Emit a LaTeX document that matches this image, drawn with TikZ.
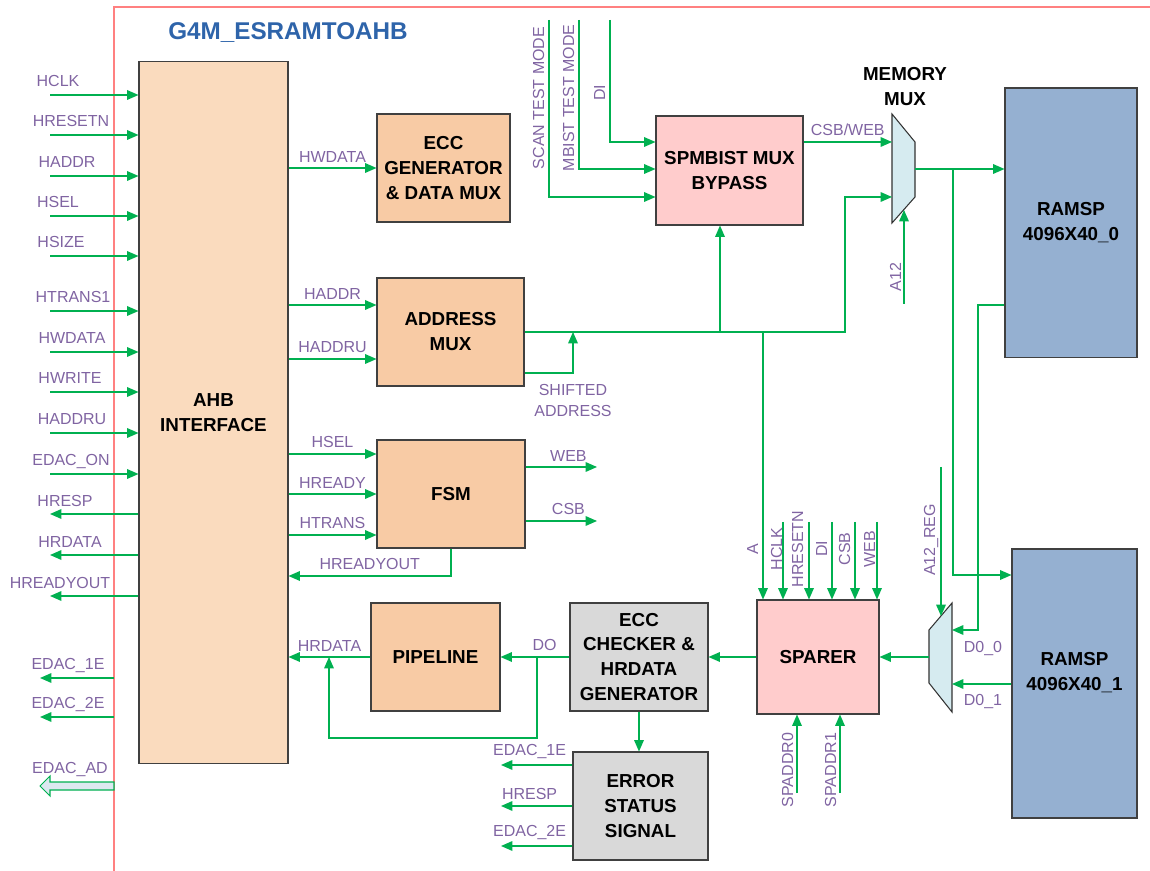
\documentclass[tikz,border=0pt]{standalone}
\usepackage{fontspec}
\setmainfont{Liberation Sans}
\usetikzlibrary{arrows.meta, positioning}
\definecolor{sgreen}{RGB}{0,176,80}
\definecolor{lpurple}{RGB}{128,100,162}
\definecolor{ahbfill}{RGB}{250,219,190}
\definecolor{orfill}{RGB}{248,203,165}
\definecolor{pkfill}{RGB}{255,204,204}
\definecolor{gyfill}{RGB}{217,217,217}
\definecolor{ramfill}{RGB}{149,176,209}
\definecolor{muxfill}{RGB}{214,235,240}
\definecolor{ttlblue}{RGB}{46,100,170}
\definecolor{framered}{RGB}{255,128,128}
\definecolor{adfill}{RGB}{221,232,240}

\begin{document}
\begin{tikzpicture}[
    x=0.02cm, y=-0.02cm,
    blk/.style={draw=black!75, line width=0.6pt, fill=orfill, align=center, inner sep=0pt,
        font=\fontsize{10.7}{14.2}\selectfont\bfseries},
    sig/.style={draw=sgreen, line width=0.7pt, -{Triangle[length=6.5pt, width=5.5pt]}},
    wire/.style={draw=sgreen, line width=0.7pt},
    lbl/.style={text=lpurple, inner sep=0pt, align=center,
        font=\fontsize{9.1}{12}\selectfont},
    muxshape/.style={draw=black!80, fill=muxfill, line width=0.6pt}
]
    \useasboundingbox (0,0) rectangle (1150,871);

    % frame and title
    \draw[framered, line width=0.8pt] (114,871) -- (114,7) -- (1150,7);
    \node[text=ttlblue, font=\fontsize{13.8}{16}\selectfont\bfseries] (title) at (288,33) {G4M\_ESRAMTOAHB};

    % blocks
    \node[blk, fill=ahbfill, minimum width=2.98cm, minimum height=14.06cm] (ahb) at (213.5,412.5) {AHB\\INTERFACE};
    \node[blk, minimum width=2.66cm, minimum height=2.16cm] (eccgen) at (443.5,168) {ECC\\GENERATOR\\\& DATA MUX};
    \node[blk, minimum width=2.94cm, minimum height=2.16cm] (addr) at (450.5,332) {ADDRESS\\MUX};
    \node[blk, minimum width=2.96cm, minimum height=2.16cm] (fsm) at (451,494) {FSM};
    \node[blk, minimum width=2.58cm, minimum height=2.16cm] (pipe) at (435.5,657) {PIPELINE};
    \node[blk, fill=gyfill, minimum width=2.76cm, minimum height=2.16cm] (eccchk) at (639,657) {ECC\\CHECKER \&\\HRDATA\\GENERATOR};
    \node[blk, fill=gyfill, minimum width=2.70cm, minimum height=2.16cm] (err) at (640.5,806) {ERROR\\STATUS\\SIGNAL};
    \node[blk, fill=pkfill, minimum width=2.44cm, minimum height=2.28cm] (sparer) at (818,657) {SPARER};
    \node[blk, fill=pkfill, minimum width=2.94cm, minimum height=2.18cm] (spm) at (729.5,170.5) {SPMBIST MUX\\BYPASS};
    \node[blk, fill=ramfill, minimum width=2.64cm, minimum height=5.4cm] (ram0) at (1071,223) {RAMSP\\4096X40\_0};
    \node[blk, fill=ramfill, minimum width=2.5cm, minimum height=5.38cm] (ram1) at (1074.5,683.5) {RAMSP\\4096X40\_1\\\mbox{}};

    % muxes
    \draw[muxshape] (892,114) -- (915,142) -- (915,197) -- (892,223) -- cycle;
    \coordinate (mmuxin1) at (892,142);
    \coordinate (mmuxin2) at (892,197);
    \coordinate (mmuxsel) at (904,210);
    \coordinate (mmuxout) at (915,169);
    \node[font=\fontsize{10.7}{14.2}\selectfont\bfseries, align=center] (mmuxlbl) at (905,87) {MEMORY\\MUX};

    \draw[muxshape] (952,603) -- (929,630) -- (929,683) -- (952,712) -- cycle;
    \coordinate (lmuxin0) at (952,630);
    \coordinate (lmuxin1) at (952,684);
    \coordinate (lmuxsel) at (941,616);
    \coordinate (lmuxout) at (929,657);

    % AHB pins
    \foreach \yy/\txt/\lx [count=\i] in {95/HCLK/58, 135/HRESETN/71, 176/HADDR/67, 216/HSEL/58,
        256/HSIZE/61, 311/HTRANS1/73, 352/HWDATA/72, 392/HWRITE/70, 433/HADDRU/72, 474/EDAC\_ON/71} {
        \coordinate (pin\i) at (50,\yy);
        \draw[sig] (pin\i) -- (ahb.west |- pin\i);
        \node[lbl, anchor=base] (pinl\i) at (\lx,\yy-8) {\txt};
    }
    \foreach \yy/\txt/\lx [count=\i] in {514/HRESP/65, 555/HRDATA/70, 596/HREADYOUT/60} {
        \coordinate (pout\i) at (50,\yy);
        \draw[sig] (ahb.west |- pout\i) -- (pout\i);
        \node[lbl, anchor=base] (poutl\i) at (\lx,\yy-8) {\txt};
    }
    \foreach \yy/\txt [count=\i] in {678/EDAC\_1E, 717/EDAC\_2E} {
        \coordinate (pe\i) at (40,\yy);
        \draw[sig] (114,\yy) -- (pe\i);
        \node[lbl, anchor=base] (pel\i) at (68,\yy-9) {\txt};
    }
    \draw[draw=sgreen, fill=adfill, line width=0.6pt] (114,782) -- (50,782) -- (50,776) -- (40,786)
        -- (50,796) -- (50,790) -- (114,790) -- cycle;
    \node[lbl, anchor=base] (adl) at (70,773) {EDAC\_AD};

    % AHB to blocks
    \draw[sig] (ahb.east |- eccgen) -- node[lbl, above=3pt] {HWDATA} (eccgen);
    \draw[sig] (ahb.east |- 0,305) -- node[lbl, above=3pt] {HADDR} (addr.west |- 0,305);
    \draw[sig] (ahb.east |- 0,359) -- node[lbl, above=3pt] {HADDRU} (addr.west |- 0,359);
    \draw[sig] (ahb.east |- 0,454) -- node[lbl, above=3pt] {HSEL} (fsm.west |- 0,454);
    \draw[sig] (ahb.east |- 0,494) -- node[lbl, above=3pt] {HREADY} (fsm.west |- 0,494);
    \draw[sig] (ahb.east |- 0,535) -- node[lbl, above=3pt] {HTRANS} (fsm.west |- 0,535);

    % FSM outputs
    \coordinate (webo) at (597,467);
    \coordinate (csbo) at (597,521);
    \draw[sig] (fsm.east |- webo) -- node[lbl, above=3pt, pos=0.6] {WEB} (webo);
    \draw[sig] (fsm.east |- csbo) -- node[lbl, above=3pt, pos=0.6] {CSB} (csbo);
    \draw[sig] (fsm.south) |- node[lbl, above=3pt, pos=0.75] {HREADYOUT} (ahb.east |- 0,576);

    % address paths
    \coordinate (aj) at (845,332);
    \draw[sig] (addr.east) -- (aj) |- (mmuxin2);
    \draw[sig] (addr.east -| 720,0) -- (spm.south -| 720,0);
    \draw[sig] (addr.east -| 763,0) -- (sparer.north -| 763,0);
    \draw[sig] (addr.east |- 0,373) -| node[lbl, below=6pt, pos=0.5] {SHIFTED\\ADDRESS} (addr.east -| 573,0);

    % SPMBIST inputs
    \coordinate (scan) at (549,20);
    \coordinate (mbist) at (579,20);
    \coordinate (dii) at (610,20);
    \draw[sig] (scan) |- (spm.west |- 0,197);
    \draw[sig] (mbist) |- (spm.west |- 0,169);
    \draw[sig] (dii) |- (spm.west |- 0,142);
    \node[lbl, rotate=90, anchor=base] (scanl) at (544,98) {SCAN TEST MODE};
    \node[lbl, rotate=90, anchor=base] (mbistl) at (574,98) {MBIST TEST MODE};
    \node[lbl, rotate=90, anchor=base] (diil) at (605,93) {DI};

    % memory mux
    \draw[sig] (spm.east |- mmuxin1) -- node[lbl, above=3pt] {CSB/WEB} (mmuxin1);
    \coordinate (a12) at (904,304);
    \draw[sig] (a12) -- (mmuxsel);
    \node[lbl, rotate=90, anchor=base] (a12l) at (901,277) {A12};
    \draw[sig] (mmuxout) -- (ram0.west |- mmuxout);
    \draw[sig] (mmuxout -| 953,0) |- (ram1.west |- 0,575);

    % sparer inputs
    \foreach \xx/\txt/\bx [count=\i] in {783/HCLK/782, 809/HRESETN/803, 832/DI/827, 855/CSB/850, 877/WEB/875} {
        \coordinate (sin\i) at (\xx,522);
        \draw[sig] (sin\i) -- (sparer.north -| sin\i);
        \node[lbl, rotate=90, anchor=base] (sinl\i) at (\bx,549) {\txt};
    }
    \node[lbl, rotate=90, anchor=base] (al) at (758,549) {A};
    \foreach \xx/\txt/\bx [count=\i] in {797/SPADDR0/793, 840/SPADDR1/836} {
        \coordinate (sad\i) at (\xx,793);
        \draw[sig] (sad\i) -- (sparer.south -| sad\i);
        \node[lbl, rotate=90, anchor=base] (sadl\i) at (\bx,770) {\txt};
    }

    % lower mux
    \coordinate (a12reg) at (941,467);
    \draw[sig] (a12reg) -- (lmuxsel);
    \node[lbl, rotate=90, anchor=base] (a12regl) at (935,540) {A12\_REG};
    \coordinate (d0c) at (978,305);
    \draw[sig] (ram0.west |- d0c) -- (d0c) |- (lmuxin0);
    \node[lbl, anchor=base] (d00l) at (983,652) {D0\_0};
    \draw[sig] (ram1.west |- lmuxin1) -- (lmuxin1);
    \node[lbl, anchor=base] (d01l) at (983,705) {D0\_1};
    \draw[sig] (lmuxout) -- (sparer.east |- lmuxout);

    % read path
    \draw[sig] (sparer.west) -- (eccchk.east);
    \draw[sig] (eccchk.west) -- node[lbl, above=3pt, pos=0.36] {DO} (pipe.east);
    \draw[sig] (pipe.west) -- node[lbl, above=3pt] {HRDATA} (ahb.east |- pipe.west);
    \draw[sig] (pipe.east -| 537,0) |- (329,738) -- (pipe.west -| 329,0);
    \draw[sig] (eccchk.south) -- (err.north -| eccchk.south);
    \foreach \yy/\txt [count=\i] in {765/EDAC\_1E, 806/HRESP, 846/EDAC\_2E} {
        \coordinate (eo\i) at (501,\yy);
        \draw[sig] (err.west |- eo\i) -- node[lbl, above=3pt, pos=0.6] {\txt} (eo\i);
    }
\end{tikzpicture}
\end{document}
